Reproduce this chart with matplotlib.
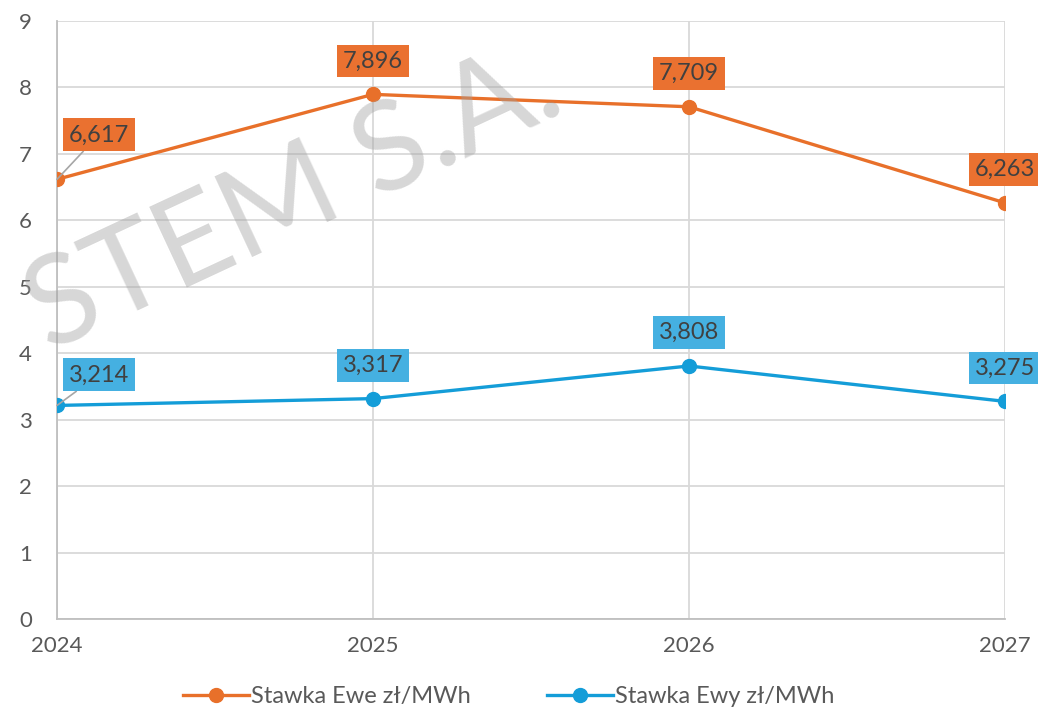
import matplotlib.pyplot as plt

# data
years = [2024, 2025, 2026, 2027]
ewe = [6.617, 7.896, 7.709, 6.263]
ewy = [3.214, 3.317, 3.808, 3.275]
ewe_name = 'Stawka Ewe zł/MWh'
ewy_name = 'Stawka Ewy zł/MWh'

plt.rcParams['font.family'] = ['Lato', 'DejaVu Sans']

orange = '#E8702A'
orange_box = '#EA7130'
blue = '#149DD8'
blue_box = '#45B0E1'
grey_txt = '#595959'

fig = plt.figure(figsize=(10.38, 7.13), dpi=100)
ax = fig.add_axes([57 / 1038, 1 - 619 / 713, (1005 - 57) / 1038, (619 - 21) / 713])

ax.plot(years, ewe, color=orange, lw=2.4, marker='o', ms=10, label=ewe_name, zorder=3)
ax.plot(years, ewy, color=blue, lw=2.4, marker='o', ms=10, label=ewy_name, zorder=3)

ax.set_xlim(2024, 2027)
ax.set_ylim(0, 9)
ax.set_xticks(years)
ax.set_yticks(range(10))
ax.grid(True, color='#D9D9D9', lw=1.3)
ax.set_axisbelow(True)
for s in ['top', 'right']:
    ax.spines[s].set_visible(False)
for s in ['left', 'bottom']:
    ax.spines[s].set_color('#BFBFBF')
    ax.spines[s].set_linewidth(1.3)
ax.tick_params(length=0, labelsize=16, labelcolor=grey_txt, pad=12)
ax.tick_params(axis='y', pad=18)

# value labels in coloured boxes
def label(x, y, txt, fc, dx, dy, leader=False):
    kw = dict(textcoords='offset points', ha='center', va='center', fontsize=17,
              color='#404040', bbox=dict(boxstyle='square,pad=0.25', fc=fc, ec='none'),
              zorder=5, annotation_clip=False)
    if leader:
        kw['arrowprops'] = dict(arrowstyle='-', color='#A6A6A6', lw=1.2, shrinkA=0, shrinkB=0)
    ax.annotate(txt, (x, y), xytext=(dx, dy), **kw)

for i, (x, y) in enumerate(zip(years, ewe)):
    if i == 0:
        label(x, y, f'{y:.3f}'.replace('.', ','), orange_box, 30, 32, leader=True)
    else:
        label(x, y, f'{y:.3f}'.replace('.', ','), orange_box, 0, 24)
for i, (x, y) in enumerate(zip(years, ewy)):
    if i == 0:
        label(x, y, f'{y:.3f}'.replace('.', ','), blue_box, 30, 22, leader=True)
    else:
        label(x, y, f'{y:.3f}'.replace('.', ','), blue_box, 0, 24)

fig.legend(loc='lower center', bbox_to_anchor=(0.49, -0.022), ncol=2, frameon=False,
           fontsize=17, labelcolor=grey_txt, handlelength=2.8, columnspacing=3.2,
           handletextpad=0.1)

# watermark
fig.text(0.283, 0.72, 'STEM S.A.', fontsize=90, color='#A0A0A0', alpha=0.42,
         rotation=25, ha='center', va='center', zorder=10)

fig.savefig('out.png', dpi=100)
